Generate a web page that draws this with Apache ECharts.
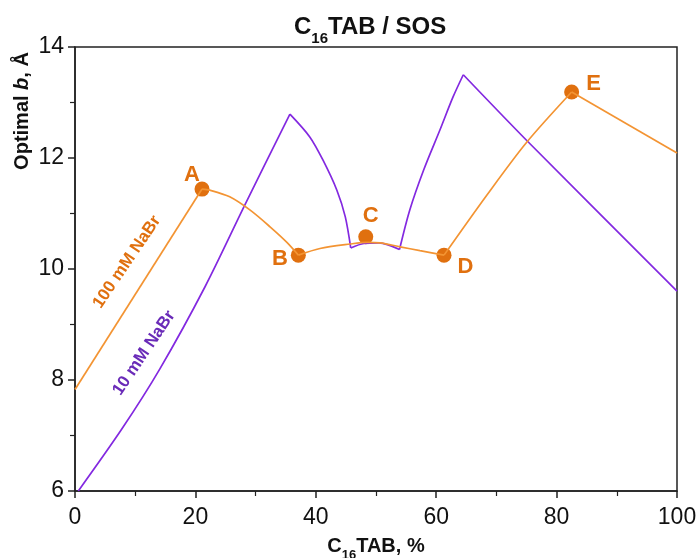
<!DOCTYPE html>
<html>
<head>
<meta charset="utf-8">
<script src="https://cdn.jsdelivr.net/npm/echarts@6/dist/echarts.min.js"></script>
<style>
html,body{margin:0;padding:0;background:#fff;}
#container{width:700px;height:558px;}
</style>
</head>
<body>
<div id="container"></div>
<script>
// 100 mM NaBr curve
var orangeX = [0, 21.1, 22.4, 25.7, 29.1, 32.4, 35.2, 37.1, 40.7, 45.7, 48.5, 50.7, 54.0, 57.3, 61.3, 68.4, 75.0, 82.5, 100];
var orangeY = [7.83, 11.44, 11.42, 11.30, 11.06, 10.76, 10.48, 10.25, 10.37, 10.45, 10.48, 10.47, 10.40, 10.33, 10.25, 11.33, 12.28, 13.19, 12.09];
var orangeBreaks = [0, 1, 7, 14, 17, 18];
// 10 mM NaBr curve
var purpleX = [0.55, 7.8, 14.1, 21.6, 28.2, 35.7, 39.0, 41.2, 43.5, 44.9, 45.8, 48.0, 50.5, 53.9, 55.6, 57.9, 60.6, 62.8, 64.5, 75.0, 100];
var purpleY = [6.0, 7.12, 8.2, 9.68, 11.15, 12.79, 12.38, 11.96, 11.42, 10.94, 10.38, 10.46, 10.47, 10.35, 11.06, 11.78, 12.50, 13.10, 13.50, 12.32, 9.60];
var purpleBreaks = [0, 5, 10, 13, 18, 20];
// marked points
var pointNames = ['A', 'B', 'C', 'D', 'E'];
var pointX = [21.1, 37.1, 48.3, 61.3, 82.5];
var pointY = [11.44, 10.25, 10.58, 10.25, 13.19];

var ORANGE_LINE = '#F39433';
var ORANGE_DOT = '#E0700F';
var PURPLE = '#8329E0';
var FONT = 'Liberation Sans';

// the curves have sharp corners, so each smooth piece between corners is its own series
function segments(xs, ys, breaks, color) {
    var list = [];
    for (var s = 0; s < breaks.length - 1; s++) {
        var d = [];
        for (var i = breaks[s]; i <= breaks[s + 1]; i++) d.push([xs[i], ys[i]]);
        list.push({
            type: 'line', data: d, showSymbol: false, smooth: 0.3,
            lineStyle: {color: color, width: 1.7}
        });
    }
    return list;
}

var labelPos = {
    A: {position: 'top', offset: [-10, 7]},
    B: {position: 'left', offset: [0, 4]},
    C: {position: 'top', offset: [5, 1]},
    D: {position: 'right', offset: [3, 12]},
    E: {position: 'right', offset: [4, -8]}
};

var pointData = [];
for (var i = 0; i < pointNames.length; i++) {
    var n = pointNames[i];
    pointData.push({
        value: [pointX[i], pointY[i]],
        name: n,
        label: {show: true, formatter: n, position: labelPos[n].position, offset: labelPos[n].offset}
    });
}

var series = segments(purpleX, purpleY, purpleBreaks, PURPLE)
    .concat(segments(orangeX, orangeY, orangeBreaks, ORANGE_LINE));
series.push({
    name: 'points', type: 'scatter', data: pointData,
    symbolSize: 15,
    itemStyle: {color: ORANGE_DOT, opacity: 1},
    label: {fontFamily: FONT, fontWeight: 'bold', fontSize: 22, color: ORANGE_DOT, distance: 3}
});

var dom = document.getElementById('container');
var myChart = echarts.init(dom);
var option = {
    animation: false,
    title: {
        text: '{a|C}{s|16}{a|TAB / SOS}',
        left: 289,
        top: 4,
        textStyle: {
            rich: {
                a: {fontFamily: FONT, fontWeight: 'bold', fontSize: 24, color: '#111', lineHeight: 30, verticalAlign: 'bottom'},
                s: {fontFamily: FONT, fontWeight: 'bold', fontSize: 15, color: '#111', lineHeight: 30, verticalAlign: 'bottom', padding: [0, 0, -7, 0]}
            }
        }
    },
    grid: {
        left: 75, right: 23, top: 47, bottom: 67,
        containLabel: false, outerBoundsMode: 'none',
        show: true, borderColor: '#222', borderWidth: 1.5, backgroundColor: '#fff'
    },
    xAxis: {
        type: 'value', min: 0, max: 100, interval: 20,
        name: '{a|C}{s|16}{a|TAB, %}',
        nameLocation: 'middle', nameGap: 41,
        nameTextStyle: {
            rich: {
                a: {fontFamily: FONT, fontWeight: 'bold', fontSize: 20, color: '#111', lineHeight: 24, verticalAlign: 'bottom'},
                s: {fontFamily: FONT, fontWeight: 'bold', fontSize: 13, color: '#111', lineHeight: 24, verticalAlign: 'bottom', padding: [0, 0, -6, 0]}
            }
        },
        axisLine: {lineStyle: {color: '#222', width: 1.5}},
        axisTick: {length: 7, lineStyle: {color: '#222', width: 1.5}},
        minorTick: {show: true, splitNumber: 2, length: 5, lineStyle: {color: '#222', width: 1.2}},
        axisLabel: {fontFamily: FONT, fontSize: 23, color: '#111', margin: 15},
        splitLine: {show: false}
    },
    yAxis: {
        type: 'value', min: 6, max: 14, interval: 2,
        axisLine: {show: true, lineStyle: {color: '#222', width: 1.5}},
        axisTick: {show: true, length: 7, lineStyle: {color: '#222', width: 1.5}},
        minorTick: {show: true, splitNumber: 2, length: 5, lineStyle: {color: '#222', width: 1.2}},
        axisLabel: {fontFamily: FONT, fontSize: 23, color: '#111', margin: 11},
        splitLine: {show: false}
    },
    graphic: [
        {
            type: 'text', x: 22, y: 111, rotation: Math.PI / 2,
            style: {
                text: '{a|Optimal }{b|b}{a|, Å}',
                align: 'center', verticalAlign: 'middle',
                rich: {
                    a: {fontFamily: FONT, fontWeight: 'bold', fontSize: 20, fill: '#111'},
                    b: {fontFamily: FONT, fontWeight: 'bold', fontStyle: 'italic', fontSize: 20, fill: '#111'}
                }
            }
        },
        {
            type: 'text', x: 127, y: 262, rotation: 56 * Math.PI / 180,
            style: {text: '100 mM NaBr', align: 'center', verticalAlign: 'middle',
                font: 'bold 17px "Liberation Sans"', fill: ORANGE_DOT}
        },
        {
            type: 'text', x: 144, y: 353, rotation: 56 * Math.PI / 180,
            style: {text: '10 mM NaBr', align: 'center', verticalAlign: 'middle',
                font: 'bold 17px "Liberation Sans"', fill: '#6A2BB8'}
        }
    ],
    series: series
};
myChart.setOption(option, true);
</script>
</body>
</html>
